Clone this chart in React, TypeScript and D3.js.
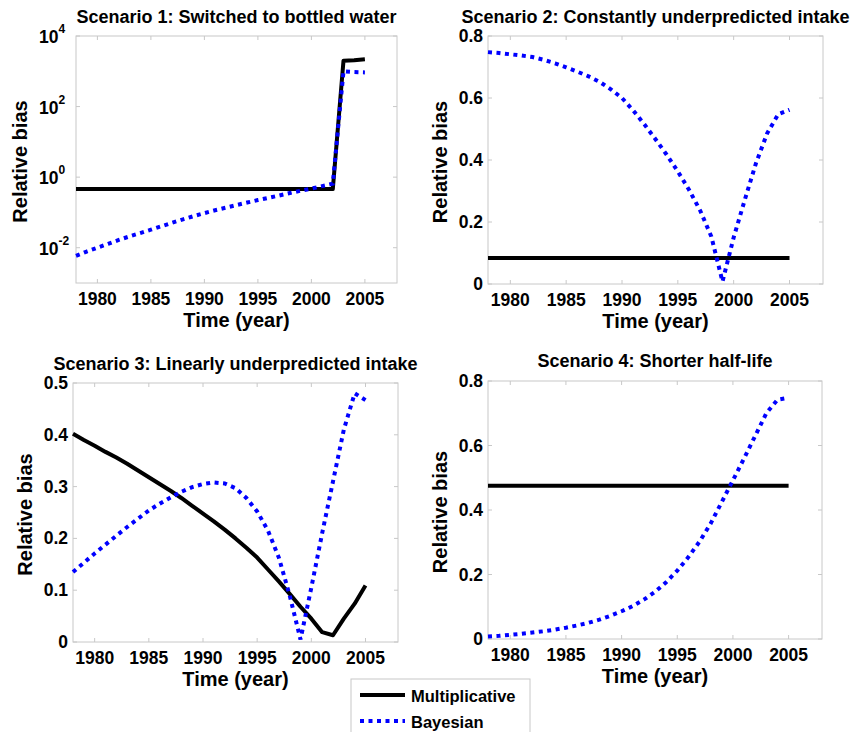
import React from 'react';
import * as d3 from 'd3';

const YEARS = [1978, 1979, 1980, 1981, 1982, 1983, 1984, 1985, 1986, 1987, 1988, 1989, 1990, 1991, 1992, 1993, 1994, 1995, 1996, 1997, 1998, 1999, 2000, 2001, 2002, 2003, 2004, 2005];

const S1_MULT = [0.46, 0.46, 0.46, 0.46, 0.46, 0.46, 0.46, 0.46, 0.46, 0.46, 0.46, 0.46, 0.46, 0.46, 0.46, 0.46, 0.46, 0.46, 0.46, 0.46, 0.46, 0.46, 0.46, 0.46, 0.46, 2000, 2050, 2200];
const S1_BAYES = [0.0059, 0.0078, 0.0100, 0.0129, 0.0166, 0.0209, 0.0260, 0.0324, 0.0407, 0.0513, 0.0638, 0.0785, 0.0955, 0.115, 0.136, 0.162, 0.191, 0.224, 0.260, 0.302, 0.355, 0.412, 0.473, 0.556, 0.653, 1000, 950, 930];

const S2_MULT = [0.084, 0.084, 0.084, 0.084, 0.084, 0.084, 0.084, 0.084, 0.084, 0.084, 0.084, 0.084, 0.084, 0.084, 0.084, 0.084, 0.084, 0.084, 0.084, 0.084, 0.084, 0.084, 0.084, 0.084, 0.084, 0.084, 0.084, 0.084];
const S2_BAYES = [0.748, 0.745, 0.741, 0.737, 0.732, 0.723, 0.712, 0.699, 0.685, 0.670, 0.652, 0.628, 0.600, 0.560, 0.515, 0.467, 0.417, 0.363, 0.304, 0.237, 0.153, 0.008, 0.150, 0.272, 0.390, 0.486, 0.548, 0.562];

const S3_MULT = [0.402, 0.390, 0.379, 0.367, 0.356, 0.344, 0.331, 0.318, 0.305, 0.292, 0.278, 0.263, 0.248, 0.233, 0.217, 0.200, 0.182, 0.163, 0.140, 0.117, 0.093, 0.068, 0.045, 0.019, 0.013, 0.045, 0.074, 0.109];
const S3_BAYES = [0.135, 0.153, 0.171, 0.188, 0.205, 0.222, 0.238, 0.254, 0.267, 0.279, 0.290, 0.299, 0.305, 0.308, 0.306, 0.297, 0.278, 0.252, 0.215, 0.163, 0.090, 0.005, 0.105, 0.210, 0.310, 0.410, 0.480, 0.467];

const S4_MULT = [0.475, 0.475, 0.475, 0.475, 0.475, 0.475, 0.475, 0.475, 0.475, 0.475, 0.475, 0.475, 0.475, 0.475, 0.475, 0.475, 0.475, 0.475, 0.475, 0.475, 0.475, 0.475, 0.475, 0.475, 0.475, 0.475, 0.475, 0.475];
const S4_BAYES = [0.008, 0.010, 0.013, 0.016, 0.020, 0.024, 0.029, 0.035, 0.042, 0.050, 0.060, 0.072, 0.086, 0.102, 0.122, 0.146, 0.176, 0.212, 0.254, 0.302, 0.358, 0.425, 0.492, 0.560, 0.630, 0.700, 0.742, 0.748];

const X_TICKS = [1980, 1985, 1990, 1995, 2000, 2005];
const LOG_TICKS = [1e-2, 1, 1e2, 1e4];
const LOG_EXPONENTS = ['-2', '0', '2', '4'];
const TICKS_08 = [0, 0.2, 0.4, 0.6, 0.8];
const TICKS_05 = [0, 0.1, 0.2, 0.3, 0.4, 0.5];

const TITLES = [
  'Scenario 1: Switched to bottled water',
  'Scenario 2: Constantly underpredicted intake',
  'Scenario 3: Linearly underpredicted intake',
  'Scenario 4: Shorter half-life',
];
const X_LABEL = 'Time (year)';
const Y_LABEL = 'Relative bias';
const LEGEND_LABELS = ['Multiplicative', 'Bayesian'];

const FONT = '"Liberation Sans", Arial, Helvetica, sans-serif';
const AXIS_GRAY = '#c8c8c8';
const BLUE = '#0000ff';

type Box = { l: number; r: number; t: number; b: number };

function Panel(props: {
  box: Box;
  title: string;
  titleY: number;
  yLabelX: number;
  log?: boolean;
  yDomain: [number, number];
  yTicks: number[];
  mult: number[];
  bayes: number[];
}) {
  const { box, title, titleY, yLabelX, log, yDomain, yTicks, mult, bayes } = props;
  const x = d3.scaleLinear().domain([1978, 2008]).range([box.l, box.r]);
  const y: any = log
    ? d3.scaleLog().domain(yDomain).range([box.b, box.t])
    : d3.scaleLinear().domain(yDomain).range([box.b, box.t]);
  const line = d3
    .line<number>()
    .x((_, i) => x(YEARS[i]))
    .y((d) => y(d));
  const cx = (box.l + box.r) / 2;
  const cy = (box.t + box.b) / 2;
  const tl = 4;
  return (
    <g>
      <rect x={box.l} y={box.t} width={box.r - box.l} height={box.b - box.t} fill="#fff" stroke={AXIS_GRAY} strokeWidth={1} />
      {X_TICKS.map((t) => (
        <g key={'x' + t}>
          <line x1={x(t)} x2={x(t)} y1={box.b} y2={box.b - tl} stroke={AXIS_GRAY} />
          <line x1={x(t)} x2={x(t)} y1={box.t} y2={box.t + tl} stroke={AXIS_GRAY} />
          <text x={x(t)} y={box.b + 22} textAnchor="middle" fontSize={17.5} fontWeight="bold" fontFamily={FONT}>
            {t}
          </text>
        </g>
      ))}
      {yTicks.map((t, i) => (
        <g key={'y' + i}>
          <line x1={box.l} x2={box.l + tl} y1={y(t)} y2={y(t)} stroke={AXIS_GRAY} />
          <line x1={box.r} x2={box.r - tl} y1={y(t)} y2={y(t)} stroke={AXIS_GRAY} />
          {log ? (
            <text x={box.l - 37} y={y(t) + 7} textAnchor="start" fontSize={17.5} fontWeight="bold" fontFamily={FONT}>
              10
              <tspan dy={-10} fontSize={12}>
                {LOG_EXPONENTS[i]}
              </tspan>
            </text>
          ) : (
            <text x={box.l - 5} y={y(t) + 6} textAnchor="end" fontSize={17.5} fontWeight="bold" fontFamily={FONT}>
              {String(t)}
            </text>
          )}
        </g>
      ))}
      <path d={line(mult) || ''} fill="none" stroke="#000" strokeWidth={4} strokeLinejoin="round" />
      <path d={line(bayes) || ''} fill="none" stroke={BLUE} strokeWidth={4} strokeDasharray="4 4.5" />
      <text x={cx} y={titleY} textAnchor="middle" fontSize={18} fontWeight="bold" fontFamily={FONT}>
        {title}
      </text>
      <text x={cx} y={box.b + 44} textAnchor="middle" fontSize={20} fontWeight="bold" fontFamily={FONT}>
        {X_LABEL}
      </text>
      <text
        transform={`translate(${yLabelX + 7},${cy + 2}) rotate(-90)`}
        textAnchor="middle"
        fontSize={20}
        fontWeight="bold"
        fontFamily={FONT}
      >
        {Y_LABEL}
      </text>
    </g>
  );
}

export default function App() {
  return (
    <svg width={855} height={732} style={{ position: 'absolute', left: 0, top: 0, background: '#fff' }}>
      <rect x={0} y={0} width={855} height={732} fill="#fff" />
      <Panel box={{ l: 76, r: 397, t: 36, b: 283 }} title={TITLES[0]} titleY={23} yLabelX={20} log yDomain={[1e-3, 1e4]} yTicks={LOG_TICKS} mult={S1_MULT} bayes={S1_BAYES} />
      <Panel box={{ l: 488, r: 823, t: 36, b: 284 }} title={TITLES[1]} titleY={23} yLabelX={440} yDomain={[0, 0.8]} yTicks={TICKS_08} mult={S2_MULT} bayes={S2_BAYES} />
      <Panel box={{ l: 73, r: 398, t: 383, b: 642 }} title={TITLES[2]} titleY={370} yLabelX={25} yDomain={[0, 0.5]} yTicks={TICKS_05} mult={S3_MULT} bayes={S3_BAYES} />
      <Panel box={{ l: 488, r: 822, t: 381, b: 639 }} title={TITLES[3]} titleY={367} yLabelX={440} yDomain={[0, 0.8]} yTicks={TICKS_08} mult={S4_MULT} bayes={S4_BAYES} />
      <g>
        <rect x={351} y={679} width={179} height={70} fill="#fff" stroke={AXIS_GRAY} strokeWidth={1} />
        <line x1={360} x2={405} y1={695} y2={695} stroke="#000" strokeWidth={4} />
        <line x1={360} x2={405} y1={721} y2={721} stroke={BLUE} strokeWidth={4} strokeDasharray="4 4.5" />
        <text x={411} y={701.5} fontSize={16.5} fontWeight="bold" fontFamily={FONT}>
          {LEGEND_LABELS[0]}
        </text>
        <text x={411} y={728} fontSize={16.5} fontWeight="bold" fontFamily={FONT}>
          {LEGEND_LABELS[1]}
        </text>
      </g>
    </svg>
  );
}
